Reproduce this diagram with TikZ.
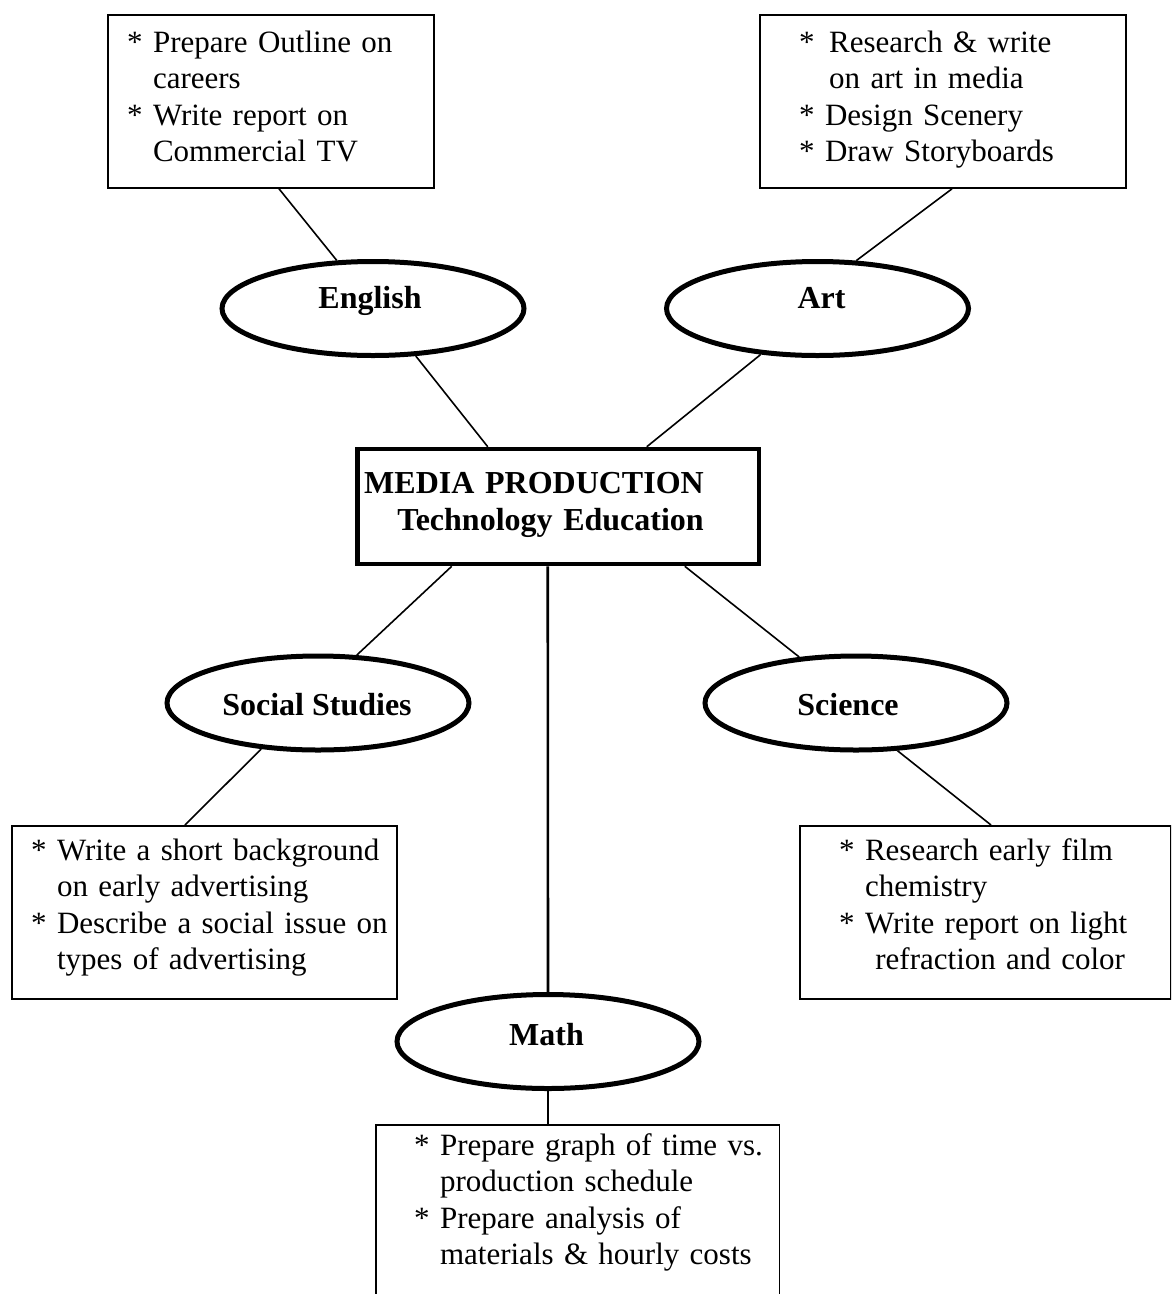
\documentclass[tikz,border=0pt]{standalone}
\usepackage{fontspec}
\setmainfont{Liberation Serif}
\usetikzlibrary{shapes.geometric}
\newcommand\elabel[3]{\raisebox{-#2}[0pt][0pt]{\makebox[0pt]{\hspace*{#1}#3}}}
\newcommand\ind{\hphantom{* }}
\begin{document}
\begin{tikzpicture}[x=1pt,y=-1pt,
  every node/.style={inner sep=0pt},
  itembox/.style={draw, line width=1.8pt, rectangle, anchor=north west, minimum height=173pt},
  itemtext/.style={anchor=base west, text width=420pt, align=left, font=\fontsize{31}{36.5}\selectfont},
  subject/.style={draw, ellipse, line width=5pt, minimum width=302pt, minimum height=94pt, font=\fontsize{32}{36}\selectfont\bfseries},
  link/.style={line width=1.6pt},
  mainlink/.style={line width=2.6pt}]
\useasboundingbox (0,0) rectangle (1171,1294);
\clip (0,0) rectangle (1171,1294);

% activity boxes
\node[itembox, minimum width=326pt] (engbox) at (107,14) {};
\node[itembox, minimum width=366pt] (artbox) at (759,14) {};
\node[itembox, minimum width=385pt] (socbox) at (11,825) {};
\node[itembox, minimum width=371pt] (scibox) at (799,825) {};
\node[minimum width=403pt, minimum height=175pt, anchor=north west] (mathbox) at (376,1125) {};
\draw[line width=1.8pt] (mathbox.south west) -- (mathbox.north west) -- (mathbox.north east) -- (mathbox.south east);

\node[itemtext] (engtext) at (127,52) {* Prepare Outline on\\\ind careers\\{*} Write report on\\\ind Commercial TV};
\node[itemtext] (arttext) at (799,52) {\makebox[30pt][l]{*}Research \& write\\\hspace*{30pt}on art in media\\{*} Design Scenery\\{*} Draw Storyboards};
\node[itemtext] (soctext) at (31,860) {* Write a short background\\\ind on early advertising\\{*} Describe a social issue on\\\ind types of advertising};
\node[itemtext] (scitext) at (839,860) {* Research early film\\\ind chemistry\\{*} Write report on light\\\ind\ refraction and color};
\node[itemtext] (mathtext) at (414,1155) {* Prepare graph of time vs.\\\ind production schedule\\{*} Prepare analysis of\\\ind materials \& hourly costs};

% central box
\node[draw, line width=4.5pt, minimum width=401.5pt, minimum height=115pt] (media) at (558.25,506.5) {};
\node[anchor=base east, text width=420pt, align=right, font=\fontsize{32}{37}\selectfont\bfseries] (mediatext) at (704,493) {MEDIA PRODUCTION\\Technology Education};

% subjects
\node[subject] (english) at (373,308.5) {\elabel{-6pt}{0pt}{English}};
\node[subject] (art) at (817.5,308.5) {\elabel{8pt}{0pt}{Art}};
\node[subject] (social) at (318,703) {\elabel{-2pt}{12pt}{Social Studies}};
\node[subject] (science) at (856,703) {\elabel{-16pt}{12pt}{Science}};
\node[subject] (math) at (548,1041.5) {\elabel{-3pt}{3.5pt}{Math}};

% connectors
\draw[link] ([xshift=172pt]engbox.south west) -- (english.127);
\draw[link] (english.-48) -- ([xshift=132.5pt]media.north west);
\draw[link] ([xshift=193pt]artbox.south west) -- (art.51);
\draw[link] (art.219) -- ([xshift=291.5pt]media.north west);
\draw[link] ([xshift=96.5pt]media.south west) -- (social.51);
\draw[link] (social.219) -- ([xshift=174pt]socbox.north west);
\draw[link] ([xshift=329.5pt]media.south west) -- (science.141);
\draw[link] (science.-49) -- ([xshift=192pt]scibox.north west);
\draw[mainlink] ([xshift=192.5pt]media.south west) -- (math.north);
\draw[mainlink] (math.south) -- (math.south |- mathbox.north);
\end{tikzpicture}
\end{document}
